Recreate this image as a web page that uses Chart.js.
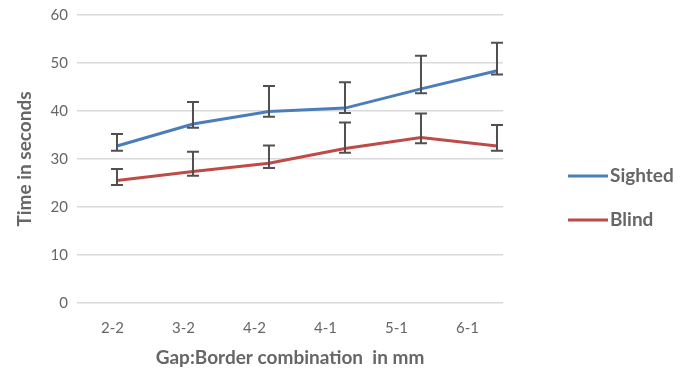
<!DOCTYPE html>
<html>
<head>
<meta charset="utf-8">
<script src="https://cdn.jsdelivr.net/npm/chart.js@4"></script>
<style>
  html, body { margin: 0; padding: 0; background: #fff; }
  #wrap { width: 682px; height: 377px; }
</style>
</head>
<body>
<div id="wrap"><canvas id="chart"></canvas></div>
<script>
const categories = ['2-2', '3-2', '4-2', '4-1', '5-1', '6-1'];

const sighted = [32.7, 37.3, 39.9, 40.6, 44.6, 48.4];
const sightedHigh = [35.2, 41.9, 45.2, 46.0, 51.5, 54.2];
const sightedLow = [31.7, 36.5, 38.8, 39.6, 43.7, 47.6];

const blind = [25.5, 27.4, 29.1, 32.2, 34.5, 32.7];
const blindHigh = [27.9, 31.5, 32.8, 37.6, 39.5, 37.1];
const blindLow = [24.6, 26.5, 28.1, 31.3, 33.3, 31.7];

const yTicks = [0, 10, 20, 30, 40, 50, 60];

const FONT = 'Lato, "Open Sans", sans-serif';
const GREY = '#666666';

function points(values) {
  return values.map((v, i) => ({ x: i, y: v }));
}

// error bars drawn through the chart scales
const errorBars = {
  id: 'errorBars',
  afterDatasetsDraw(chart) {
    const ctx = chart.ctx;
    const yScale = chart.scales.y;
    ctx.save();
    ctx.strokeStyle = '#505050';
    ctx.lineWidth = 2;
    chart.data.datasets.forEach((ds) => {
      const xScale = chart.scales[ds.xAxisID];
      ds.data.forEach((p, i) => {
        const x = xScale.getPixelForValue(p.x);
        const top = yScale.getPixelForValue(ds.high[i]);
        const bot = yScale.getPixelForValue(ds.low[i]);
        ctx.beginPath();
        ctx.moveTo(x, top); ctx.lineTo(x, bot);
        ctx.moveTo(x - 6, top); ctx.lineTo(x + 6, top);
        ctx.moveTo(x - 6, bot); ctx.lineTo(x + 6, bot);
        ctx.stroke();
      });
    });
    ctx.restore();
  }
};

// legend on the right, like the original
const sideLegend = {
  id: 'sideLegend',
  afterDraw(chart) {
    const ctx = chart.ctx;
    const area = chart.chartArea;
    ctx.save();
    ctx.font = 'bold 19px ' + FONT;
    ctx.textBaseline = 'middle';
    chart.data.datasets.forEach((ds, i) => {
      const y = 176 + i * 44;
      const x = area.right + 65;
      ctx.strokeStyle = ds.borderColor;
      ctx.lineWidth = 3;
      ctx.beginPath();
      ctx.moveTo(x, y); ctx.lineTo(x + 40, y);
      ctx.stroke();
      ctx.fillStyle = GREY;
      ctx.fillText(ds.label, x + 42, y);
    });
    ctx.restore();
  }
};

new Chart(document.getElementById('chart'), {
  type: 'line',
  data: {
    labels: categories,
    datasets: [
      {
        label: 'Sighted',
        data: points(sighted),
        high: sightedHigh,
        low: sightedLow,
        borderColor: '#4a7ebb',
        borderWidth: 3,
        pointRadius: 0,
        xAxisID: 'x2'
      },
      {
        label: 'Blind',
        data: points(blind),
        high: blindHigh,
        low: blindLow,
        borderColor: '#be4b48',
        borderWidth: 3,
        pointRadius: 0,
        xAxisID: 'x2'
      }
    ]
  },
  options: {
    responsive: true,
    maintainAspectRatio: false,
    animation: false,
    layout: { padding: { left: 0, right: 179, top: 15, bottom: 0 } },
    plugins: {
      legend: { display: false },
      tooltip: { enabled: false }
    },
    scales: {
      x: {
        type: 'category',
        offset: true,
        grid: { display: false, drawTicks: false },
        border: { display: false },
        ticks: { color: GREY, font: { family: FONT, size: 15 }, padding: 16 },
        title: {
          display: true,
          text: 'Gap:Border combination  in mm',
          color: GREY,
          font: { family: FONT, size: 19, weight: 'bold' },
          padding: { top: 0, bottom: 8 }
        },
        afterFit(scale) { scale.height = 74; }
      },
      x2: {
        type: 'linear',
        display: false,
        min: -0.526,
        max: 5.079
      },
      y: {
        min: 0,
        max: 60,
        afterBuildTicks(scale) { scale.ticks = yTicks.map(v => ({ value: v })); },
        grid: { color: '#d9d9d9', lineWidth: 1.5, drawTicks: false },
        border: { display: false },
        ticks: { color: GREY, font: { family: FONT, size: 15 }, padding: 9 },
        title: {
          display: true,
          text: 'Time in seconds',
          color: GREY,
          font: { family: FONT, size: 19, weight: 'bold' },
          padding: { top: 13, bottom: 4 }
        },
        afterFit(scale) {
          scale.width = 77;
          scale.paddingTop = 0;
          scale.paddingBottom = 0;
        }
      }
    }
  },
  plugins: [errorBars, sideLegend]
});
</script>
</body>
</html>
